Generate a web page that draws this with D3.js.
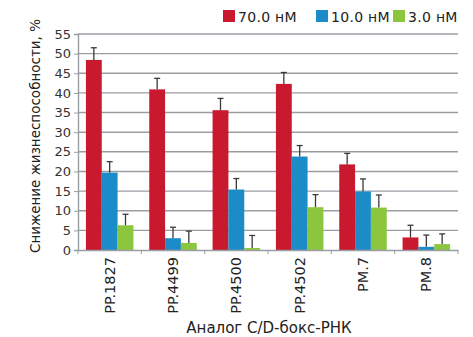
<!DOCTYPE html>
<html><head><meta charset="utf-8">
<script src="https://cdn.jsdelivr.net/npm/d3@7"></script>
<style>body{margin:0;background:#fff}svg{display:block}text{font-family:"DejaVu Sans",sans-serif}</style>
</head><body><svg id="c" width="473" height="337"></svg>
<script>
const categories = ["PP.1827","PP.4499","PP.4500","PP.4502","PM.7","PM.8"];
const seriesNames = ["70.0 нМ","10.0 нМ","3.0 нМ"];
const colors = ["#c8192e","#1c8cc8","#8cc63e"];
const values70 = [48.4, 40.9, 35.6, 42.3, 21.8, 3.2];
const values10 = [19.7, 3.0, 15.4, 23.8, 14.9, 0.8];
const values3  = [6.3, 1.8, 0.5, 10.9, 10.8, 1.5];
const errTop70 = [51.5, 43.7, 38.6, 45.2, 24.6, 6.3];
const errTop10 = [22.5, 5.8, 18.2, 26.6, 18.1, 3.8];
const errTop3  = [9.1, 4.8, 3.7, 14.1, 14.0, 4.1];
const yTicks = [0,5,10,15,20,25,30,35,40,45,50,55];

const series = [values70, values10, values3];
const errs = [errTop70, errTop10, errTop3];
const FONT = "'DejaVu Sans',sans-serif";
const svg = d3.select("#c");
const m = {l:78, r:458, t:34, b:250};
const x = d3.scaleBand().domain(categories).range([m.l, m.r]).paddingInner(0).paddingOuter(0);
const x1 = d3.scaleBand().domain([0,1,2]).range([0, x.bandwidth()]).paddingInner(0).paddingOuter(0.5);
const y = d3.scaleLinear().domain([0,55]).range([m.b, m.t]);

// gridlines
svg.append("g").selectAll("line").data(yTicks.filter(d=>d>0)).join("line")
  .attr("x1", m.l).attr("x2", m.r).attr("y1", d=>y(d)).attr("y2", d=>y(d))
  .attr("stroke","#9a9ea3").attr("stroke-width",1.4);

// y axis
const ya = svg.append("g").attr("transform",`translate(${m.l},0)`)
  .call(d3.axisLeft(y).tickValues(yTicks).tickSize(4).tickPadding(3));
ya.select(".domain").attr("stroke","#9a9ea3").attr("stroke-width",1.4);
ya.selectAll(".tick line").attr("stroke","#9a9ea3");
ya.selectAll("text").attr("font-size",13).attr("fill","#333").style("font-family",FONT);

// bars
const g = svg.append("g");
series.forEach((vals, si) => {
  g.append("g").selectAll("rect").data(vals).join("rect")
    .attr("x",(d,i)=>x(categories[i]) + x1(si))
    .attr("width", x1.bandwidth())
    .attr("y", d=>y(d)).attr("height", d=>y(0)-y(d))
    .attr("fill", colors[si]);
  const eg = g.append("g").attr("stroke","#3a3a3a").attr("stroke-width",1.3);
  errs[si].forEach((e,i) => {
    const cx = x(categories[i]) + x1(si) + x1.bandwidth()/2;
    eg.append("line").attr("x1",cx).attr("x2",cx).attr("y1",y(vals[i])).attr("y2",y(e));
    eg.append("line").attr("x1",cx-3).attr("x2",cx+3).attr("y1",y(e)).attr("y2",y(e));
  });
});

// x axis
const xa = svg.append("g").attr("transform",`translate(0,${m.b})`)
  .call(d3.axisBottom(x).tickSize(0).tickPadding(8));
xa.select(".domain").attr("stroke","#9a9ea3").attr("stroke-width",1.4);
categories.forEach((c,i)=>{
  const xx = x(c) + x.bandwidth();
  xa.append("line").attr("x1",xx).attr("x2",xx).attr("y1",0).attr("y2",4).attr("stroke","#9a9ea3");
});
xa.append("line").attr("x1",m.l).attr("x2",m.l).attr("y1",0).attr("y2",4).attr("stroke","#9a9ea3");
xa.selectAll(".tick text")
  .attr("transform","rotate(-90)").attr("text-anchor","end")
  .attr("x",-7).attr("y",0).attr("dy","0.35em")
  .attr("font-size",14.5).attr("fill","#222").style("font-family",FONT);

// axis titles
svg.append("text").attr("transform",`translate(40,136) rotate(-90)`)
  .attr("text-anchor","middle").attr("font-size",13.5).attr("fill","#222")
  .text("Снижение жизнеспособности, %");
svg.append("text").attr("x",269).attr("y",333).attr("text-anchor","middle")
  .attr("font-size",15).attr("fill","#222").text("Аналог C/D-бокс-РНК");

// legend
const legX = [223, 316, 393];
seriesNames.forEach((n,i)=>{
  svg.append("rect").attr("x",legX[i]).attr("y",10).attr("width",12).attr("height",12).attr("fill",colors[i]);
  svg.append("text").attr("x",legX[i]+15).attr("y",21.5).attr("font-size",14).attr("letter-spacing",0.3).attr("fill","#222").text(n);
});
</script></body></html>
